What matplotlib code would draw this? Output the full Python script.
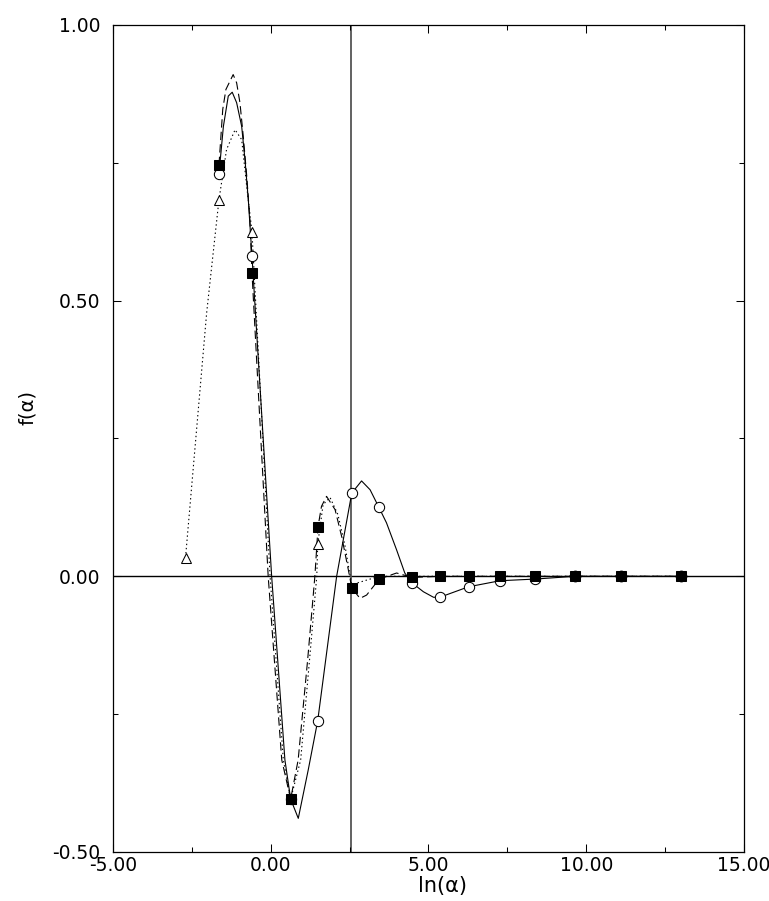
import matplotlib
matplotlib.use('Agg')
import matplotlib.pyplot as plt
from matplotlib.ticker import MultipleLocator, FormatStrFormatter

plt.rcParams['font.family'] = ['DejaVu Sans']
plt.rcParams['axes.unicode_minus'] = False
plt.rcParams['lines.scale_dashes'] = False

# marker points
circ_x = [-1.64, -0.594, 0.632, 1.49, 2.57, 3.43, 4.48, 5.36, 6.27, 7.27, 8.38, 9.63, 11.09, 13.01]
circ_y = [0.730, 0.581, -0.404, -0.262, 0.151, 0.125, -0.012, -0.038, -0.019, -0.008, -0.005, 0.0, 0.0, 0.0]

sq_x = [-1.64, -0.594, 0.632, 1.50, 2.57, 3.44, 4.49, 5.36, 6.27, 7.27, 8.38, 9.63, 11.09, 13.01]
sq_y = [0.746, 0.551, -0.404, 0.090, -0.021, -0.005, -0.002, 0.0, 0.0, 0.0, 0.0, 0.0, 0.0, 0.0]

tri_x = [-2.70, -1.64, -0.594, 0.632, 1.49]
tri_y = [0.034, 0.683, 0.625, -0.404, 0.058]

# curves as traced on the picture
solid_x = [-1.64, -1.50, -1.345, -1.22, -1.08, -0.92, -0.816, -0.71, -0.594, 0.03, 0.45, 0.632,
           0.874, 1.19, 1.49, 2.09, 2.57, 2.88, 3.15, 3.43, 3.67, 3.99, 4.25, 4.48, 4.84, 5.16, 5.36,
           6.27, 7.27, 8.38, 9.63, 11.09, 13.01]
solid_y = [0.730, 0.816, 0.871, 0.878, 0.859, 0.816, 0.756, 0.683, 0.581, 0.0, -0.333, -0.404,
           -0.439, -0.351, -0.262, 0.0, 0.151, 0.173, 0.157, 0.125, 0.097, 0.048, 0.006, -0.012, -0.028, -0.038, -0.038,
           -0.019, -0.008, -0.005, 0.0, 0.0, 0.0]

dash_x = [-1.64, -1.52, -1.42, -1.19, -1.08, -0.975, -0.87, -0.76, -0.66, -0.594, -0.08, 0.35, 0.632,
          0.87, 1.17, 1.40, 1.50, 1.61, 1.77, 2.04, 2.25, 2.46, 2.57, 2.83, 3.04, 3.44, 3.99, 4.49,
          5.36, 6.27, 7.27, 8.38, 9.63, 11.09, 13.01]
dash_y = [0.746, 0.847, 0.883, 0.910, 0.895, 0.859, 0.798, 0.726, 0.647, 0.551, 0.0, -0.333, -0.404,
          -0.333, -0.152, 0.0, 0.090, 0.127, 0.145, 0.121, 0.072, 0.012, -0.021, -0.040, -0.034, -0.005, 0.006, -0.002,
          0.0, 0.0, 0.0, 0.0, 0.0, 0.0, 0.0]

dot_x = [-2.70, -2.03, -1.64, -1.40, -1.13, -0.92, -0.76, -0.594, -0.02, 0.40, 0.632,
         0.95, 1.23, 1.46, 1.49, 1.66, 1.88, 2.13, 2.35, 2.51, 2.57, 3.44, 13.01]
dot_y = [0.034, 0.478, 0.683, 0.774, 0.810, 0.792, 0.707, 0.625, 0.0, -0.333, -0.404,
         -0.333, -0.152, 0.0, 0.058, 0.130, 0.143, 0.112, 0.057, 0.003, -0.015, 0.0, 0.0]

vline_x = 2.56
n_filled = 3

fig = plt.figure(figsize=(7.69, 9.01), dpi=100)
ax = fig.add_axes([0.1469, 0.0544, 0.8205, 0.9179])

ax.axhline(0, color='black', lw=1.0, zorder=1)
ax.axvline(vline_x, color='#555555', lw=1.3, zorder=1)

ax.plot(dot_x, dot_y, color='black', lw=0.8, linestyle=(0, (1.0, 2.0)), zorder=2)
ax.plot(dash_x, dash_y, color='black', lw=0.8, linestyle=(0, (6.0, 3.0)), zorder=2)
ax.plot(solid_x, solid_y, color='black', lw=0.8, zorder=2)

ax.plot(tri_x, tri_y, linestyle='none', marker='^', ms=7.5, mfc='white', mec='black', mew=0.75, zorder=3)
ax.plot(circ_x, circ_y, linestyle='none', marker='o', ms=7.4, mfc='white', mec='black', mew=0.75, zorder=4)
ax.plot(sq_x, sq_y, linestyle='none', marker='s', ms=6.5, mfc='black', mec='black', mew=0.75, zorder=5)
ax.plot(circ_x[-n_filled:], circ_y[-n_filled:], linestyle='none', marker='o', ms=7.6,
        mfc='black', mec='black', mew=0.75, zorder=6)

ax.set_xlim(-5, 15)
ax.set_ylim(-0.5, 1.0)
ax.xaxis.set_major_locator(MultipleLocator(5))
ax.xaxis.set_minor_locator(MultipleLocator(2.5))
ax.yaxis.set_major_locator(MultipleLocator(0.5))
ax.yaxis.set_minor_locator(MultipleLocator(0.25))
ax.xaxis.set_major_formatter(FormatStrFormatter('%.2f'))
ax.yaxis.set_major_formatter(FormatStrFormatter('%.2f'))

ax.tick_params(which='both', direction='in', top=True, right=True, width=0.75, color='black')
ax.tick_params(which='major', length=5.8)
ax.tick_params(which='minor', length=3.6)
ax.tick_params(axis='x', which='major', labelsize=13.5, pad=3)
ax.tick_params(axis='y', which='major', labelsize=13.5, pad=9)
for s in ax.spines.values():
    s.set_linewidth(0.9)

ax.set_xlabel('ln(α)', fontsize=15)
ax.set_ylabel('f(α)', fontsize=14)
ax.xaxis.set_label_coords(0.523, -0.029)
ax.yaxis.set_label_coords(-0.12, 0.537)

fig.savefig('out.png', dpi=100)
